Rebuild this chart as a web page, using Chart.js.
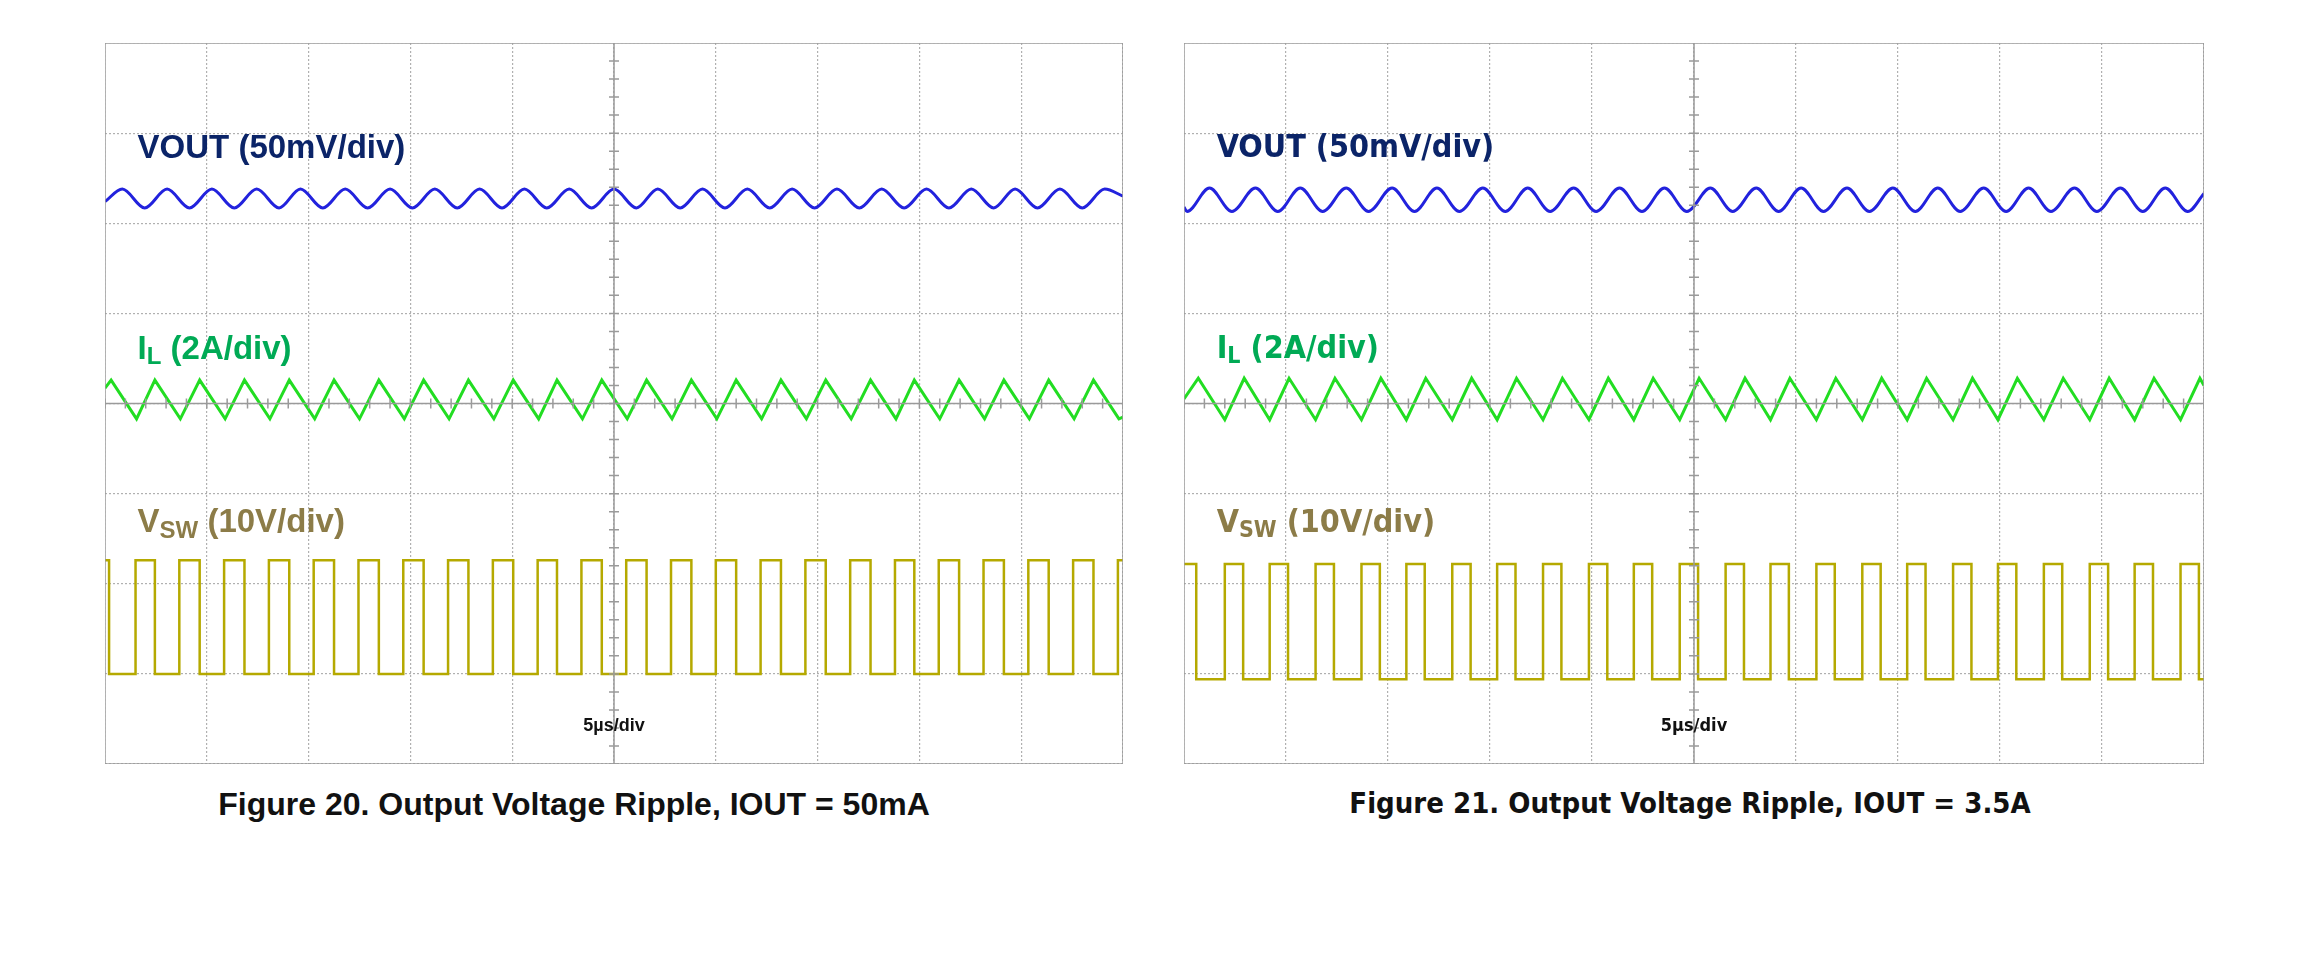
<!DOCTYPE html>
<html><head><meta charset="utf-8">
<script src="https://cdn.jsdelivr.net/npm/chart.js@4"></script>
<style>
body{margin:0;background:#fff;width:2305px;height:955px;position:relative;overflow:hidden}
.box{position:absolute}
.cap{position:absolute;top:786px;font-weight:bold;font-size:32px;color:#111;white-space:nowrap;transform:translateX(-50%)}
</style></head><body>
<div class="box" style="left:105px;top:43px;width:1018px;height:721px"><canvas id="c1"></canvas></div>
<div class="box" style="left:1184px;top:43px;width:1020px;height:721px"><canvas id="c2"></canvas></div>
<div class="cap" style="left:574px;font-family:'Liberation Sans',Arial">Figure 20. Output Voltage Ripple, IOUT = 50mA</div>
<div class="cap" style="left:1690px;font-family:'DejaVu Sans Condensed','DejaVu Sans';font-size:29px">Figure 21. Output Voltage Ripple, IOUT = 3.5A</div>
<script>
// x in divisions (5us/div), y in divisions from screen centre
// --- Figure 20 (IOUT = 50mA)
const voutPeaks1 = [0.17,0.61,1.05,1.49,1.92,2.36,2.80,3.24,3.68,4.12,4.56,5.00,5.43,5.87,6.31,6.75,7.19,7.63,8.07,8.51,8.94,9.38,9.82];
const voutTroughs1 = [0.39,0.83,1.27,1.71,2.14,2.58,3.02,3.46,3.90,4.34,4.78,5.22,5.65,6.09,6.53,6.97,7.41,7.85,8.29,8.73,9.16,9.60];
const ilPeaks1 = [0.06,0.49,0.93,1.37,1.81,2.25,2.69,3.13,3.57,4.01,4.44,4.88,5.32,5.76,6.20,6.64,7.08,7.52,7.95,8.39,8.83,9.27,9.71];
const ilTroughs1 = [0.31,0.74,1.18,1.62,2.06,2.50,2.94,3.38,3.82,4.26,4.69,5.13,5.57,6.01,6.45,6.89,7.33,7.77,8.20,8.64,9.08,9.52,9.96];
const vswRise1 = [0.30,0.73,1.17,1.61,2.05,2.49,2.93,3.37,3.81,4.25,4.68,5.12,5.56,6.00,6.44,6.88,7.32,7.76,8.19,8.63,9.07,9.51,9.95];
const vswFall1 = [0.04,0.49,0.93,1.37,1.81,2.25,2.69,3.13,3.57,4.01,4.44,4.88,5.32,5.76,6.20,6.64,7.08,7.52,7.95,8.39,8.83,9.27,9.71];
const levels1 = {voutHi:2.38, voutLo:2.17, voutEnds:[2.24,2.30], ilHi:0.26, ilLo:-0.17, ilEnds:[0.17,-0.15], vswHi:-1.74, vswLo:-3.0};
// --- Figure 21 (IOUT = 3.5A)
const voutPeaks2 = [0.25,0.70,1.14,1.59,2.04,2.48,2.93,3.37,3.82,4.27,4.71,5.16,5.61,6.05,6.50,6.95,7.39,7.84,8.28,8.73,9.18,9.62];
const voutTroughs2 = [0.03,0.47,0.92,1.36,1.81,2.26,2.70,3.15,3.59,4.04,4.49,4.93,5.38,5.83,6.27,6.72,7.17,7.61,8.06,8.50,8.95,9.40,9.84];
const ilPeaks2 = [0.14,0.59,1.03,1.48,1.93,2.37,2.82,3.26,3.71,4.16,4.60,5.05,5.50,5.94,6.39,6.84,7.28,7.73,8.17,8.62,9.07,9.51,9.96];
const ilTroughs2 = [0.40,0.84,1.29,1.74,2.18,2.63,3.07,3.52,3.97,4.41,4.86,5.31,5.75,6.20,6.65,7.09,7.54,7.98,8.43,8.88,9.32,9.77];
const vswRise2 = [0.40,0.84,1.29,1.74,2.18,2.63,3.07,3.52,3.97,4.41,4.86,5.31,5.75,6.20,6.65,7.09,7.54,7.98,8.43,8.88,9.32,9.77];
const vswFall2 = [0.12,0.58,1.02,1.47,1.92,2.36,2.81,3.25,3.70,4.15,4.59,5.04,5.49,5.93,6.38,6.83,7.27,7.72,8.16,8.61,9.06,9.50,9.95];
const levels2 = {voutHi:2.39, voutLo:2.13, voutEnds:[2.18,2.33], ilHi:0.28, ilLo:-0.18, ilEnds:[0.05,0.20], vswHi:-1.78, vswLo:-3.06};

function extrema(hi, lo, yHi, yLo, ends){
  const pts = hi.map(x=>({x, y:yHi})).concat(lo.map(x=>({x, y:yLo}))).sort((a,b)=>a.x-b.x);
  return [{x:0,y:ends[0]}].concat(pts, [{x:10,y:ends[1]}]);
}
function steps(rise, fall, yHi, yLo){
  const ev = rise.map(x=>[x,1]).concat(fall.map(x=>[x,0])).sort((a,b)=>a[0]-b[0]);
  let state = ev[0][1] ? 0 : 1;
  const pts = [{x:0, y: state? yHi : yLo}];
  ev.forEach(([x,s])=>{ pts.push({x, y: state? yHi:yLo}); pts.push({x, y: s? yHi:yLo}); state = s; });
  pts.push({x:10, y: state? yHi:yLo});
  return pts;
}

const scopePlugin = {
  id:'scope',
  afterDraw(chart, args, o){
    const {ctx, chartArea:a, scales:{x, y}} = chart;
    ctx.save();
    ctx.strokeStyle = '#9a9a9a'; ctx.lineWidth = 1.5;
    const cx = x.getPixelForValue(5), cy = y.getPixelForValue(0);
    ctx.beginPath(); ctx.moveTo(cx, a.top); ctx.lineTo(cx, a.bottom); ctx.moveTo(a.left, cy); ctx.lineTo(a.right, cy); ctx.stroke();
    ctx.beginPath();
    for (let v=-4; v<=4; v+=0.2){ const p=y.getPixelForValue(v); ctx.moveTo(cx-5,p); ctx.lineTo(cx+5,p); }
    for (let v=0; v<=10; v+=0.2){ const p=x.getPixelForValue(v); ctx.moveTo(p,cy-5); ctx.lineTo(p,cy+5); }
    ctx.stroke();
    ctx.strokeRect(a.left, a.top, a.right-a.left, a.bottom-a.top);
    ctx.textBaseline = 'middle';
    o.labels.forEach(l=>{
      ctx.fillStyle = l.color;
      ctx.font = 'bold ' + o.size + 'px ' + o.font;
      let px = x.getPixelForValue(0.32), py = y.getPixelForValue(l.y);
      ctx.fillText(l.main, px, py);
      px += ctx.measureText(l.main).width;
      if (l.sub){ ctx.font = 'bold ' + Math.round(o.size*0.72) + 'px ' + o.font; ctx.fillText(l.sub, px, py+8); px += ctx.measureText(l.sub).width; ctx.font = 'bold ' + o.size + 'px ' + o.font; }
      ctx.fillText(l.rest, px, py);
    });
    ctx.fillStyle = '#111'; ctx.font = 'bold 18px ' + o.font; ctx.textAlign = 'center';
    ctx.fillText('5\u00b5s/div', cx, y.getPixelForValue(-3.58));
    ctx.restore();
  }
};

function makeChart(id, vp, vt, ip, it, vr, vf, L, font, size){
  const ds = (data, color, mode) => ({data, borderColor:color, borderWidth:3, pointRadius:0, fill:false,
    cubicInterpolationMode: mode||'default', tension: mode? 0.4 : 0});
  new Chart(document.getElementById(id), {
    type:'line',
    data:{datasets:[
      ds(extrema(vp, vt, L.voutHi, L.voutLo, L.voutEnds), '#2222dd', 'monotone'),
      ds(extrema(ip, it, L.ilHi, L.ilLo, L.ilEnds), '#22dd22'),
      Object.assign(ds(steps(vr, vf, L.vswHi, L.vswLo), '#b5a900'), {borderWidth:2.5})
    ]},
    options:{
      responsive:true, maintainAspectRatio:false, animation:false, parsing:false,
      layout:{padding:0},
      plugins:{legend:{display:false}, tooltip:{enabled:false},
        scope:{font, size, labels:[
          {main:'VOUT (50mV/div)', rest:'', color:'#0b2468', y:2.83},
          {main:'I', sub:'L', rest:' (2A/div)', color:'#00aa55', y:0.6},
          {main:'V', sub:'SW', rest:' (10V/div)', color:'#8c7c48', y:-1.33}
        ]}},
      scales:{
        x:{type:'linear', min:0, max:10, ticks:{display:false, stepSize:1}, border:{display:false, dash:[2,2]},
           grid:{color:'#b0b0b0', lineWidth:1.2, drawTicks:false}},
        y:{min:-4, max:4, ticks:{display:false, stepSize:1}, border:{display:false, dash:[2,2]},
           grid:{color:'#b0b0b0', lineWidth:1.2, drawTicks:false}}
      }
    },
    plugins:[scopePlugin]
  });
}
makeChart('c1', voutPeaks1, voutTroughs1, ilPeaks1, ilTroughs1, vswRise1, vswFall1, levels1, "'Liberation Sans', Arial", 33);
makeChart('c2', voutPeaks2, voutTroughs2, ilPeaks2, ilTroughs2, vswRise2, vswFall2, levels2, "'DejaVu Sans Condensed', 'DejaVu Sans'", 32);
</script>
</body></html>
